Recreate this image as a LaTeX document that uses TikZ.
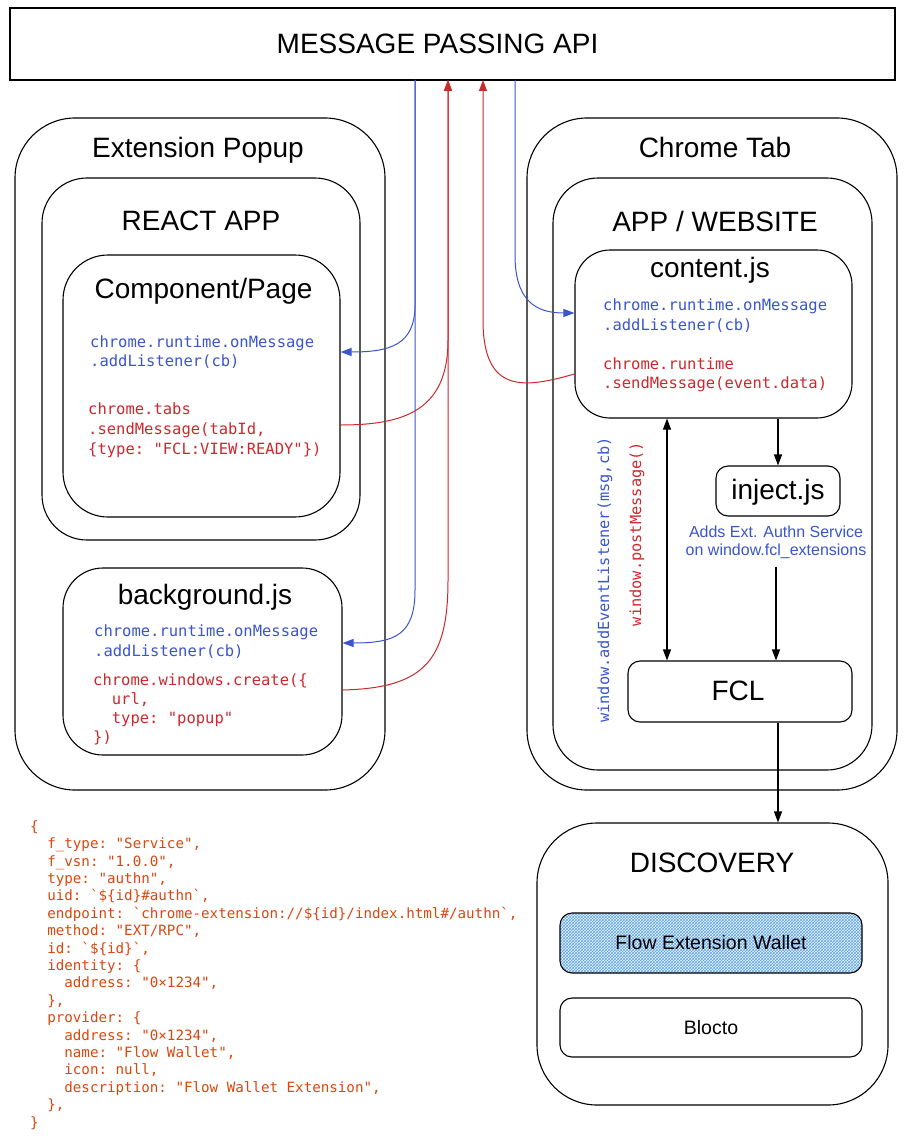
\documentclass[tikz,border=0pt]{standalone}
\usepackage{fontspec}
\setmainfont{Liberation Sans}
\setmonofont{DejaVu Sans Mono}
\usetikzlibrary{arrows.meta,patterns}
\definecolor{cblue}{RGB}{59,86,204}
\definecolor{cred}{RGB}{204,41,46}
\definecolor{corange}{RGB}{217,72,15}
\definecolor{hatchblue}{RGB}{95,165,232}
\definecolor{hatchbg}{RGB}{236,245,253}
\newcommand{\indA}{\hphantom{00}}
\newcommand{\indB}{\hphantom{0000}}
\newcommand{\bq}{\textasciigrave}
\begin{document}
\begin{tikzpicture}[x=1pt,y=-1pt,
  frame/.style={draw=black, line width=1.1pt, inner sep=0pt},
  title/.style={font=\fontsize{28}{31}\selectfont, inner sep=0pt},
  small/.style={font=\fontsize{19.5}{22}\selectfont, inner sep=0pt},
  code/.style={font=\ttfamily\frenchspacing\fontsize{15.5}{19.5}\selectfont, align=left, anchor=west, inner sep=0pt},
  bigcode/.style={font=\ttfamily\frenchspacing\fontsize{14.2}{17.4}\selectfont, align=left, anchor=west, inner sep=0pt, text=corange},
  tipA/.style={-{Triangle[length=11pt,width=8pt]}},
  bline/.style={draw=cblue, line width=1pt, tipA, fill=none},
  rline/.style={draw=cred, line width=1pt, tipA, fill=none},
  kline/.style={draw=black, line width=1.1pt, tipA},
]
\useasboundingbox (0,0) rectangle (907,1142);
\fill[white] (0,0) rectangle (907,1142);

% API
\node[frame, minimum width=885pt, minimum height=72pt] (api) at (452.5,44) {};
\node[title] (apit) at (437.5,44) {MESSAGE PASSING API};

% Extension popup
\node[frame, rounded corners=60pt, minimum width=370pt, minimum height=672pt] (popup) at (200,454) {};
\node[title] (popupt) at (198,150) {Extension Popup};
\node[frame, rounded corners=45pt, minimum width=318pt, minimum height=362pt] (react) at (201,359) {};
\node[title] (reactt) at (201,221) {REACT APP};
\node[frame, rounded corners=45pt, minimum width=277pt, minimum height=262pt] (comp) at (201.5,386) {};
\node[title] (compt) at (203.5,291) {Component/Page};
\node[code, text=cblue] (compb) at (90,352) {chrome.runtime.onMessage\\.addListener(cb)};
\node[code, text=cred, font=\ttfamily\frenchspacing\fontsize{15.5}{20}\selectfont] (compr) at (88,430) {chrome.tabs\\.sendMessage(tabId,\\\{type: "FCL:VIEW:READY"\})};

\node[frame, rounded corners=40pt, minimum width=279pt, minimum height=187pt] (bg) at (202.5,661.5) {};
\node[title] (bgt) at (205,597) {background.js};
\node[code, text=cblue] (bgb) at (94,641.5) {chrome.runtime.onMessage\\.addListener(cb)};
\node[code, text=cred, font=\ttfamily\frenchspacing\fontsize{15.5}{19}\selectfont] (bgr) at (93,709.5) {chrome.windows.create(\{\\\indA url,\\\indA type: "popup"\\\})};

% Chrome tab
\node[frame, rounded corners=60pt, minimum width=370pt, minimum height=672pt] (tab) at (712,454) {};
\node[title] (tabt) at (715,147) {Chrome Tab};
\node[frame, rounded corners=45pt, minimum width=319pt, minimum height=592pt] (app) at (712.5,474) {};
\node[title] (appt) at (715,221) {APP / WEBSITE};
\node[frame, rounded corners=35pt, minimum width=277pt, minimum height=168pt] (content) at (713.5,334) {};
\node[title] (contentt) at (710,270) {content.js};
\node[code, text=cblue] (contb) at (603,315.5) {chrome.runtime.onMessage\\.addListener(cb)};
\node[code, text=cred, font=\ttfamily\frenchspacing\fontsize{15.5}{18.5}\selectfont] (contr) at (603,375) {chrome.runtime\\.sendMessage(event.data)};

\node[frame, rounded corners=12pt, minimum width=124pt, minimum height=50pt] (inject) at (778,491) {};
\node[title] (injectt) at (778,492) {inject.js};
\node[inner sep=0pt, align=center, text=cblue, font=\fontsize{16}{18}\selectfont] (injlabel) at (776,542) {Adds Ext. Authn Service\\on window.fcl\_extensions};

\node[frame, rounded corners=12pt, minimum width=224pt, minimum height=61pt] (fcl) at (740,691.5) {};
\node[title] (fclt) at (738,691) {FCL};

\node[rotate=90, inner sep=0pt, text=cblue, font=\ttfamily\fontsize{15.3}{18}\selectfont] (vblue) at (605,580) {window.addEventListener(msg,cb)};
\node[rotate=90, inner sep=0pt, text=cred, font=\ttfamily\fontsize{15.3}{18}\selectfont] (vred) at (637,534) {window.postMessage()};

% Discovery
\node[frame, rounded corners=60pt, minimum width=351pt, minimum height=282pt] (disc) at (712.5,964) {};
\node[title] (disct) at (712,863) {DISCOVERY};
\node[frame, rounded corners=12pt, minimum width=302pt, minimum height=60pt,
      preaction={fill=hatchbg}, pattern=crosshatch, pattern color=hatchblue] (few) at (711,943) {};
\node[small] (fewt) at (711,943) {Flow Extension Wallet};
\node[frame, rounded corners=12pt, minimum width=302pt, minimum height=59pt] (blocto) at (711,1027.5) {};
\node[small] (bloctot) at (711,1028) {Blocto};

% Code block
\node[bigcode] (svc) at (30,975) {\{\\
\indA f\_type: "Service",\\
\indA f\_vsn: "1.0.0",\\
\indA type: "authn",\\
\indA uid: \bq\$\{id\}\#authn\bq,\\
\indA endpoint: \bq chrome-extension://\$\{id\}/index.html\#/authn\bq,\\
\indA method: "EXT/RPC",\\
\indA id: \bq\$\{id\}\bq,\\
\indA identity: \{\\
\indB address: "0×1234",\\
\indA \},\\
\indA provider: \{\\
\indB address: "0×1234",\\
\indB name: "Flow Wallet",\\
\indB icon: null,\\
\indB description: "Flow Wallet Extension",\\
\indA \},\\
\}};

% API attach points
\coordinate (apiB1) at (415,80);
\coordinate (apiR1) at (448,80);
\coordinate (apiR2) at (483,80);
\coordinate (apiB2) at (515,80);

% Blue: API -> listeners
\draw[bline] (apiB1) -- (415,305) .. controls (415,345) and (390,352) .. ([yshift=34pt]comp.east);
\draw[bline] (apiB1) -- (415,590) .. controls (415,635) and (395,643) .. ([yshift=18.5pt]bg.east);
\draw[bline] (apiB2) -- (515,255) .. controls (515,300) and (535,313) .. ([yshift=21pt]content.west);

% Red: senders -> API
\draw[rline] ([yshift=-39pt]comp.east) .. controls (405,425) and (448,410) .. (448,340) -- (apiR1);
\draw[rline] ([yshift=-28.5pt]bg.east) .. controls (425,688) and (448,660) .. (448,580) -- (apiR1);
\draw[rline] ([yshift=-40pt]content.west) .. controls (525,388) and (483,395) .. (483,320) -- (apiR2);

% Black arrows
\draw[kline, {Triangle[length=11pt,width=8pt]}-{Triangle[length=11pt,width=8pt]}] ([xshift=-46.5pt]content.south) -- ([xshift=-73pt]fcl.north);
\draw[kline] (content.south -| inject.north) -- (inject.north);
\draw[kline] ([yshift=-8pt]injlabel.south) -- (injlabel.south |- fcl.north);
\draw[kline] ([xshift=38pt]fcl.south) -- ([xshift=38pt]fcl.south |- disc.north);
\end{tikzpicture}
\end{document}
